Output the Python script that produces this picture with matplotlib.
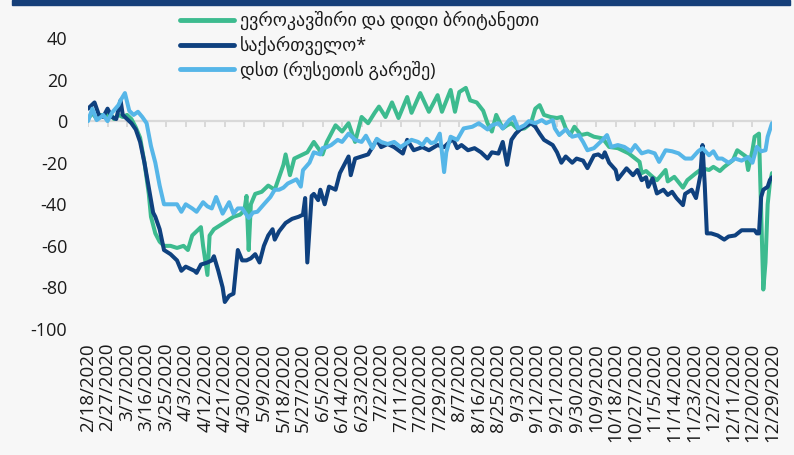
import numpy as np
import pandas as pd
import matplotlib
matplotlib.use('Agg')
import matplotlib.pyplot as plt

# --- data: days counted from 2/18/2020 ---
start_date = '2020-02-18'

eu_days = [0, 2, 4, 6, 8, 10, 12, 14, 16, 18, 20, 22, 24, 26, 28, 29, 31, 33, 35, 38,
           41, 44, 46, 48, 50, 52, 53, 55, 56, 58, 61, 64, 67, 70, 72, 73, 74, 75, 77, 80,
           83, 86, 88, 90, 91, 93, 95, 97, 99, 101, 104, 106, 108, 110, 112, 114, 117, 120, 122, 123,
           126, 129, 132, 134, 137, 140, 143, 147, 149, 153, 155, 157, 161, 163, 167, 169, 171, 174, 176, 179,
           182, 184, 186, 188, 191, 193, 195, 198, 201, 204, 206, 208, 210, 213, 216, 218, 220, 222, 224, 227,
           230, 233, 237, 240, 244, 249, 252, 254, 255, 257, 260, 262, 264, 266, 267, 270, 274, 276, 280, 283,
           286, 288, 291, 293, 297, 299, 303, 304, 306, 307, 309, 310, 311, 312, 313, 314, 315]
eu_vals = [1, 4, 1, 3, 2, 4, 1, 3, 2, 3, 1, -3, -8, -20, -35, -46, -54, -58, -60, -60,
           -61, -60, -62, -55, -53, -51, -60, -74, -55, -52, -50, -48, -46, -45, -43, -36, -62, -40, -35, -34,
           -31, -33, -27, -21, -16, -26, -18, -17, -16, -15, -10, -13, -16, -10, -6, -2, -5, -1, -7, -10,
           2, -1, 4, 7, 2, 9, 1.5, 11.6, 4, 13.5, 9, 4.5, 12.5, 4.5, 15, 4.5, 14, 16, 10, 9,
           5, -1, -5, 3, -3.5, -2, -1, -4, -3.5, -1, 6, 7.7, 3, 2, 1.5, 2, -3.5, -6.7, -2.7, -6.7,
           -6, -7.5, -8.3, -12.4, -13, -15.5, -18, -19.6, -25, -24, -26.8, -28.4, -26, -23.5, -29, -26.8, -32, -28.4, -25, -22.7,
           -23.5, -22, -24, -22, -18.8, -14, -17, -23.5, -14, -7.5, -6, -44, -81, -68, -40, -30, -25]

geo_days = [0, 2, 3, 5, 7, 9, 11, 13, 15, 16, 18, 20, 22, 24, 26, 28, 30, 31, 33, 35,
            38, 41, 43, 45, 47, 49, 50, 52, 55, 57, 58, 60, 62, 63, 65, 67, 69, 71, 73, 75,
            77, 79, 81, 83, 85, 86, 88, 91, 94, 97, 99, 100, 101, 103, 104, 106, 107, 109, 111, 114,
            116, 118, 120, 121, 123, 126, 129, 131, 133, 135, 138, 141, 145, 147, 150, 154, 157, 161, 164, 168,
            170, 172, 175, 178, 181, 184, 186, 189, 191, 193, 195, 197, 199, 201, 204, 206, 208, 210, 214, 216,
            218, 220, 223, 225, 228, 230, 233, 235, 237, 238, 240, 243, 244, 248, 251, 253, 255, 257, 258, 260,
            262, 265, 267, 269, 271, 274, 275, 278, 280, 282, 283, 284, 285, 287, 290, 293, 295, 298, 301, 304,
            307, 308, 309, 310, 311, 313, 314, 315]
geo_vals = [6, 8, 9, 3, 2, 6, 2, 1, 10, 3, 1, -1, -4, -10, -20, -32, -44, -46, -52, -62,
            -64, -67, -72, -70, -71, -72, -73, -69, -68, -67, -65, -72, -80, -87, -84, -83, -62, -67, -67, -66,
            -64, -68, -60, -55, -52, -57, -53, -49, -47, -46, -45, -37, -68, -36, -35, -38, -33, -40, -31.5, -33,
            -25, -21, -17, -26, -18, -17, -16, -12.5, -9, -12.5, -11, -12.5, -15.6, -9, -14, -12.5, -14, -11.5, -12.5, -8.5,
            -13, -11.5, -14, -13, -15, -18, -15, -15.6, -10, -21, -9, -6, -4, -2.7, -1, -2.7, -6, -9, -11.5, -15,
            -20, -17, -20, -18, -19, -22.6, -16.5, -16, -17.5, -15, -20, -23.5, -28, -22.7, -26, -23.5, -28.4, -27, -31.6, -27.5,
            -34.8, -33, -35.5, -34, -37, -40.4, -35, -33, -37, -26, -11.5, -30, -54, -54, -55, -57, -55.5, -55, -52.5, -52.5,
            -52.5, -54, -54, -36.5, -33, -31.6, -28.4, -27]

cis_days = [0, 2, 4, 6, 7, 9, 11, 14, 15, 17, 19, 21, 23, 25, 27, 29, 31, 33, 35, 38,
            41, 43, 45, 48, 50, 53, 55, 57, 59, 62, 65, 67, 69, 71, 74, 76, 78, 81, 84, 86,
            88, 90, 92, 94, 96, 98, 99, 102, 104, 107, 108, 110, 112, 115, 117, 120, 123, 126, 128, 131,
            133, 135, 138, 141, 144, 146, 149, 152, 154, 156, 158, 160, 162, 163, 164, 165, 167, 170, 173, 177,
            180, 184, 186, 189, 191, 194, 196, 198, 201, 203, 206, 209, 211, 214, 215, 217, 220, 223, 226, 228,
            230, 233, 237, 239, 241, 244, 247, 250, 252, 255, 258, 261, 263, 266, 269, 272, 275, 278, 281, 283,
            286, 288, 290, 292, 295, 298, 301, 304, 306, 308, 310, 312, 313, 315]
cis_vals = [0, 6, 0.5, 2, 3, 0, 4, 7.7, 10, 13.5, 5, 3, 4.5, 2, -1, -12, -20, -31, -40, -40,
            -40, -43.6, -40, -42, -43.6, -39, -41, -42, -36.5, -44.5, -39, -44.5, -42, -42, -46.6, -44, -43.6, -40, -36.5, -33,
            -33, -32, -30, -29, -28, -31.5, -23.6, -20, -15, -16, -13, -12.5, -11.5, -9, -10, -6, -9, -10, -7, -13,
            -8.5, -10, -11, -10, -12.5, -11, -9, -10, -11.5, -8.5, -10.6, -10, -6, -15, -24.5, -15, -7.5, -9, -3.5, -2.7,
            -1, -4, -2, -1, -3.5, 0.5, 2, -3.5, -2, 0, -1, 0.5, -1, 0.5, -3.5, -6.7, -4, -7.5, -6.7, -10,
            -14, -13, -9, -6.7, -12.4, -11.5, -12.4, -14.5, -11.5, -15.5, -14.5, -15.5, -19.6, -14, -14.5, -15.5, -18, -18, -14.5, -13,
            -16.4, -14.5, -18, -18, -20, -18, -19, -17.3, -20, -12.4, -14.5, -14, -7.5, -1]

labels = ['ევროკავშირი და დიდი ბრიტანეთი', 'საქართველო*', 'დსთ (რუსეთის გარეშე)']
colors = ['#3dbb8f', '#0f417f', '#56b6e8']

y_ticks = [40, 20, 0, -20, -40, -60, -80, -100]
tick_step = 9
n_days = 315

# --- figure ---
plt.rcParams['font.family'] = ['Open Sans', 'DejaVu Sans']
bg = '#f7f7f7'
fig = plt.figure(figsize=(7.94, 4.55), dpi=100, facecolor=bg)
ax = fig.add_axes([88 / 794, 1 - 329 / 455, (772 - 88) / 794, (329 - 38) / 455])
ax.set_facecolor(bg)

# top banner
fig.patches.append(plt.Rectangle((12 / 794, 1 - 5 / 455), 778 / 794, 5 / 455,
                                 transform=fig.transFigure, color='#163f79', zorder=0))

# zero line with small tick marks
tick_days = np.arange(0, n_days + 1, tick_step)
ax.axhline(0, color='#d9d9d9', lw=1.6, zorder=1)
ax.vlines(tick_days, -3, 0, color='#d9d9d9', lw=1.4, zorder=1)

lines = []
for days, vals, lab, col in zip([eu_days, geo_days, cis_days],
                                [eu_vals, geo_vals, cis_vals], labels, colors):
    l, = ax.plot(days, vals, color=col, lw=2.9, label=lab, zorder=3,
                 solid_joinstyle='round', solid_capstyle='round')
    lines.append(l)

ax.set_xlim(0, n_days)
ax.set_ylim(-100, 40)
for s in ax.spines.values():
    s.set_visible(False)

dates = pd.date_range(start_date, periods=len(tick_days), freq='9D')
tick_labels = [f'{d.month}/{d.day}/{d.year}' for d in dates]
ax.set_xticks(tick_days, tick_labels, rotation=90)
ax.set_yticks(y_ticks, [str(v) for v in y_ticks])
ax.tick_params(axis='x', length=0, pad=10, labelsize=13.5, colors='#1a1a1a')
ax.tick_params(axis='y', length=0, pad=15, labelsize=13, colors='#1a1a1a')

leg = fig.legend(handles=lines, loc='upper left', bbox_to_anchor=(180 / 794, 1 - 11 / 455),
                 frameon=False, fontsize=13, handlelength=3.0, handletextpad=0.3,
                 labelspacing=0.3, borderaxespad=0, borderpad=0)
for t in leg.get_texts():
    t.set_color('#1a1a1a')
for h in leg.get_lines():
    h.set_linewidth(3.5)

fig.savefig('out.png', dpi=100, facecolor=bg)
